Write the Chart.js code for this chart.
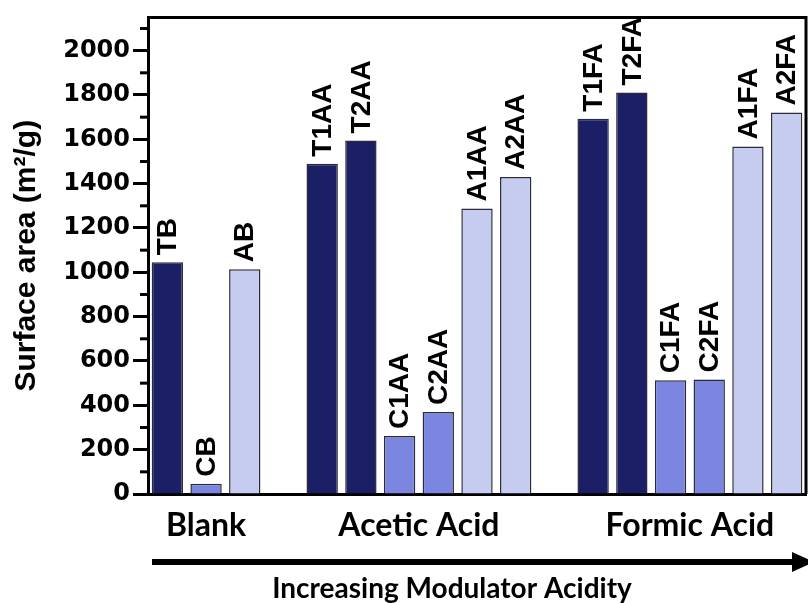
<!DOCTYPE html>
<html>
<head>
<meta charset="utf-8">
<script src="https://cdn.jsdelivr.net/npm/chart.js@4"></script>
<style>
  html, body { margin: 0; padding: 0; background: #ffffff; }
  #wrap { width: 808px; height: 603px; }
</style>
</head>
<body>
<div id="wrap"><canvas id="c" width="808" height="603"></canvas></div>
<script>
// ---- data ----
const categories   = ['TB','CB','AB','gap1','T1AA','T2AA','C1AA','C2AA','A1AA','A2AA','gap2','T1FA','T2FA','C1FA','C2FA','A1FA','A2FA'];
const barLabels    = ['TB','CB','AB','','T1AA','T2AA','C1AA','C2AA','A1AA','A2AA','','T1FA','T2FA','C1FA','C2FA','A1FA','A2FA'];
const surfaceArea  = [1045, 46, 1014, null, 1490, 1595, 262, 370, 1288, 1430, null, 1693, 1811, 513, 517, 1568, 1721];
const metalType    = ['T','C','A','','T','T','C','C','A','A','','T','T','C','C','A','A'];
const groupNames   = ['Blank','Acetic Acid','Formic Acid'];
const groupStart   = [0, 4, 11];
const groupEnd     = [2, 9, 16];
const yTickValues  = [0,200,400,600,800,1000,1200,1400,1600,1800,2000];
const yTitle       = 'Surface area (m\u00B2/g)';
const xTitle       = 'Increasing Modulator Acidity';

const typeColor = { T: '#1b1f66', C: '#7b86e0', A: '#c6ccf0', '': '#ffffff' };

const decor = {
  id: 'decor',
  afterDatasetsDraw(chart) {
    const ctx = chart.ctx;
    const meta = chart.getDatasetMeta(0);
    ctx.save();
    ctx.fillStyle = '#000';
    ctx.font = 'bold 28px "Liberation Sans", Arial, sans-serif';
    ctx.textAlign = 'left';
    ctx.textBaseline = 'middle';
    meta.data.forEach((el, i) => {
      if (surfaceArea[i] === null) return;
      ctx.save();
      ctx.translate(el.x + 1, el.y - 7);
      ctx.rotate(-Math.PI / 2);
      ctx.fillText(barLabels[i], 0, 0);
      ctx.restore();
    });
    ctx.restore();
  },
  afterDraw(chart) {
    const ctx = chart.ctx;
    const a = chart.chartArea;
    const y = chart.scales.y;
    const x = chart.scales.x;
    ctx.save();
    // frame (top and right)
    ctx.strokeStyle = '#000';
    ctx.lineWidth = 3;
    ctx.beginPath();
    ctx.moveTo(a.left, a.top);
    ctx.lineTo(a.right, a.top);
    ctx.lineTo(a.right, a.bottom);
    ctx.stroke();
    // minor ticks
    for (let v = 100; v <= 2100; v += 200) {
      const py = y.getPixelForValue(v);
      ctx.beginPath();
      ctx.moveTo(a.left - 8, py);
      ctx.lineTo(a.left, py);
      ctx.stroke();
    }
    // group labels
    ctx.fillStyle = '#000';
    ctx.font = 'bold 32px Lato, "Open Sans", sans-serif';
    ctx.textAlign = 'center';
    ctx.textBaseline = 'alphabetic';
    groupNames.forEach((g, i) => {
      const cx = (x.getPixelForValue(groupStart[i]) + x.getPixelForValue(groupEnd[i])) / 2;
      ctx.fillText(g, cx, 536);
    });
    // arrow
    const ay = 562;
    ctx.lineWidth = 6;
    ctx.beginPath();
    ctx.moveTo(152, ay);
    ctx.lineTo(796, ay);
    ctx.stroke();
    ctx.beginPath();
    ctx.moveTo(792, ay - 10);
    ctx.lineTo(814, ay);
    ctx.lineTo(792, ay + 10);
    ctx.closePath();
    ctx.fill();
    // x title
    ctx.font = 'bold 28px Lato, "Open Sans", sans-serif';
    ctx.fillText(xTitle, 452, 598);
    ctx.restore();
  }
};

new Chart(document.getElementById('c'), {
  type: 'bar',
  data: {
    labels: categories,
    datasets: [{
      data: surfaceArea,
      backgroundColor: metalType.map(t => typeColor[t]),
      borderColor: '#2a2a3a',
      borderWidth: 1.5,
      barPercentage: 0.81,
      categoryPercentage: 1.0
    }]
  },
  options: {
    responsive: false,
    animation: false,
    devicePixelRatio: 1,
    layout: { padding: { top: 15, right: 2, left: 0, bottom: 0 } },
    plugins: { legend: { display: false }, tooltip: { enabled: false } },
    scales: {
      x: {
        type: 'category',
        offset: true,
        grid: { display: false },
        ticks: { display: false },
        border: { display: true, color: '#000', width: 3 },
        afterFit(s) { s.height = 109; }
      },
      y: {
        min: 0,
        max: 2150,
        afterBuildTicks(s) { s.ticks = yTickValues.map(v => ({ value: v })); },
        ticks: {
          includeBounds: false,
          color: '#000',
          padding: 3,
          font: { family: '"DejaVu Sans", sans-serif', size: 24, weight: 'bold' },
          callback: v => String(v)
        },
        grid: { display: true, drawOnChartArea: false, drawTicks: true, tickLength: 15, tickWidth: 3, tickColor: '#000' },
        border: { display: true, color: '#000', width: 3 },
        title: {
          display: true,
          text: yTitle,
          color: '#000',
          font: { family: '"Liberation Sans", Arial, sans-serif', size: 30, weight: 'bold' },
          padding: { top: 9, bottom: 0 }
        },
        afterFit(s) { s.width = 148; }
      }
    }
  },
  plugins: [decor]
});
</script>
</body>
</html>
